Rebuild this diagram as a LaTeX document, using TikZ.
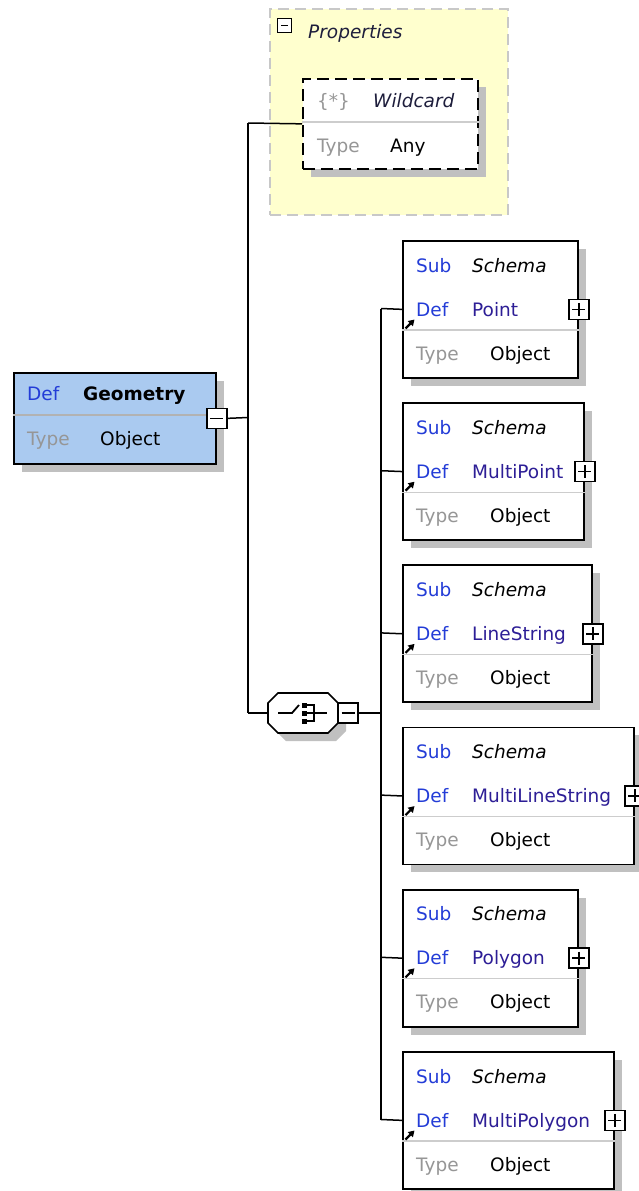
\documentclass[tikz,border=0pt]{standalone}
\usepackage{fontspec}
\setmainfont{DejaVu Sans}
\usetikzlibrary{arrows.meta,positioning,calc,shadows}
\definecolor{geofill}{RGB}{170,202,240}
\definecolor{propfill}{RGB}{255,255,206}
\definecolor{propedge}{RGB}{200,200,200}
\definecolor{shadowgray}{RGB}{192,192,192}
\definecolor{keyblue}{RGB}{35,60,215}
\definecolor{namecol}{RGB}{45,30,150}
\definecolor{typegray}{RGB}{150,150,150}
\definecolor{sepgray}{RGB}{205,205,205}
\definecolor{titlecol}{RGB}{30,30,60}
\tikzset{
  >=Stealth,
  elem/.style={rectangle, draw=black, line width=1.7pt, fill=white, inner sep=0pt, anchor=north west,
    drop shadow={shadow xshift=8pt, shadow yshift=-8pt, fill=shadowgray, opacity=1}},
  group/.style={rectangle, draw=propedge, fill=propfill, line width=1.6pt, dash pattern=on 11pt off 6pt,
    inner sep=0pt, anchor=north west},
  sep/.style={sepgray, line width=1.2pt},
  wire/.style={black, line width=1.5pt},
  lbl/.style={font=\fontsize{18.5}{20}\selectfont, inner sep=0pt, anchor=base west},
  key/.style={lbl, text=keyblue},
  typ/.style={lbl, text=typegray},
  val/.style={lbl, text=black},
  nm/.style={lbl, text=namecol},
  ital/.style={lbl, font=\fontsize{18.5}{20}\selectfont\itshape},
  tog/.style={rectangle, draw=black, line width=1.6pt, fill=white, inner sep=0pt, minimum size=20pt},
  minus/.style={tog, path picture={
    \draw[line width=1.6pt] ([xshift=3.5pt]path picture bounding box.west) -- ([xshift=-3.5pt]path picture bounding box.east);}},
  plus/.style={tog, path picture={
    \draw[line width=1.6pt] ([xshift=3.5pt]path picture bounding box.west) -- ([xshift=-3.5pt]path picture bounding box.east);
    \draw[line width=1.6pt] ([yshift=-3.5pt]path picture bounding box.north) -- ([yshift=3.5pt]path picture bounding box.south);}},
  icon/.style={-{Triangle[length=6pt,width=7pt]}, line width=2.2pt}
}
\begin{document}
\begin{tikzpicture}[x=1pt, y=-1pt]
  \useasboundingbox (0,0) rectangle (638,1191);

  % Properties group
  \node[group, minimum width=238pt, minimum height=206pt] (props) at (269,8) {};
  \node[minus, minimum size=14pt, line width=1.8pt] (props-tog) at (284.5,25.5) {};
  \node[ital, text=titlecol] (props-lbl) at (308,38) {Properties};

  % Wildcard
  \node[elem, dash pattern=on 12pt off 6pt, minimum width=175pt, minimum height=90pt] (wild) at (302,78) {};
  \draw[sep] ([yshift=-44pt]wild.north west) -- ([yshift=-44pt]wild.north east);
  \node[typ] (wild-key) at (317,107) {\{*\}};
  \node[ital, text=titlecol] (wild-name) at (373,107) {Wildcard};
  \node[typ] (wild-typ) at (317,152) {Type};
  \node[val] (wild-val) at (390,152) {Any};

  % Geometry
  \node[elem, fill=geofill, minimum width=202pt, minimum height=91pt] (geo) at (13,372) {};
  \draw[sep, gray!60] ([yshift=-43pt]geo.north west) -- ([yshift=-43pt]geo.north east);
  \node[key] (geo-def) at (27,400) {Def};
  \node[lbl, font=\fontsize{18.5}{20}\selectfont\bfseries] (geo-name) at (83,400) {Geometry};
  \node[typ] (geo-typ) at (27,445) {Type};
  \node[val] (geo-val) at (100,445) {Object};
  \node[minus] (geo-tog) at (geo.east) {};

  % Choice
  \node[inner sep=0pt, minimum width=70pt, minimum height=40pt] (choice) at (303,713) {};
  \fill[shadowgray] ([xshift=8pt,yshift=-8pt]choice.center) ++(-25,-20) -- ++(50,0) -- ++(10,10) -- ++(0,20)
    -- ++(-10,10) -- ++(-50,0) -- ++(-10,-10) -- ++(0,-20) -- cycle;
  \draw[wire, line width=1.7pt, fill=white] (choice.center) ++(-25,-20) -- ++(50,0) -- ++(10,10) -- ++(0,20)
    -- ++(-10,10) -- ++(-50,0) -- ++(-10,-10) -- ++(0,-20) -- cycle;
  \draw[wire, line width=1.8pt] ([xshift=-25pt]choice.center) -- ++(14,0) -- ++(7,-8);
  \fill ([xshift=-1.5pt,yshift=10.5pt]choice.center) rectangle ++(5,5);
  \fill ([xshift=-1.5pt,yshift=2.5pt]choice.center) rectangle ++(5,5);
  \fill ([xshift=-1.5pt,yshift=-5.5pt]choice.center) rectangle ++(5,5);
  \draw[wire, line width=1.8pt] ([xshift=3pt,yshift=8pt]choice.center) -- ++(8,0) -- ++(0,16) -- ++(-8,0);
  \draw[wire, line width=1.8pt] ([xshift=3pt]choice.center) -- ++(21,0);
  \node[minus] (choice-tog) at ([xshift=10pt]choice.east) {};

  % Sub schemas
  \foreach \nm/\w [count=\i] in {Point/175,MultiPoint/181,LineString/189,MultiLineString/231,Polygon/175,MultiPolygon/211}{
    \pgfmathsetmacro\yy{240+(\i-1)*162.2}
    \begin{scope}[shift={(402,\yy)}]
      \node[elem, minimum width=\w pt, minimum height=137pt] (s\i) at (0,0) {};
      \draw[sep] ([yshift=-90pt]s\i.north west) -- ([yshift=-90pt]s\i.north east);
      \node[key] (s\i-sub) at (14,32) {Sub};
      \node[ital] (s\i-sch) at (70,32) {Schema};
      \node[key] (s\i-def) at (14,76) {Def};
      \node[nm] (s\i-name) at (70,76) {\nm};
      \node[typ] (s\i-typ) at (14,120) {Type};
      \node[val] (s\i-val) at (88,120) {Object};
      \draw[icon] (3.5,88.5) -- (12.5,79.5);
      \coordinate (b\i) at (-21,68.5);
    \end{scope}
    \node[plus] (s\i-tog) at (s\i.east) {};
    \draw[wire] (b\i) -- (s\i.west);
  }

  % Connectors
  \coordinate (jw) at (248,123);
  \coordinate (jg) at (248,417.5);
  \coordinate (jc) at (248,713);
  \coordinate (tj) at (381,713);
  \draw[wire] (jw) -- (jc);
  \draw[wire] (jw) -- (wild.west);
  \draw[wire] (geo-tog.east) -- (jg);
  \draw[wire] (jc) -- (choice.west);
  \draw[wire] (choice-tog.east) -- (tj);
  \draw[wire] (b1) -- (b6);
\end{tikzpicture}
\end{document}
